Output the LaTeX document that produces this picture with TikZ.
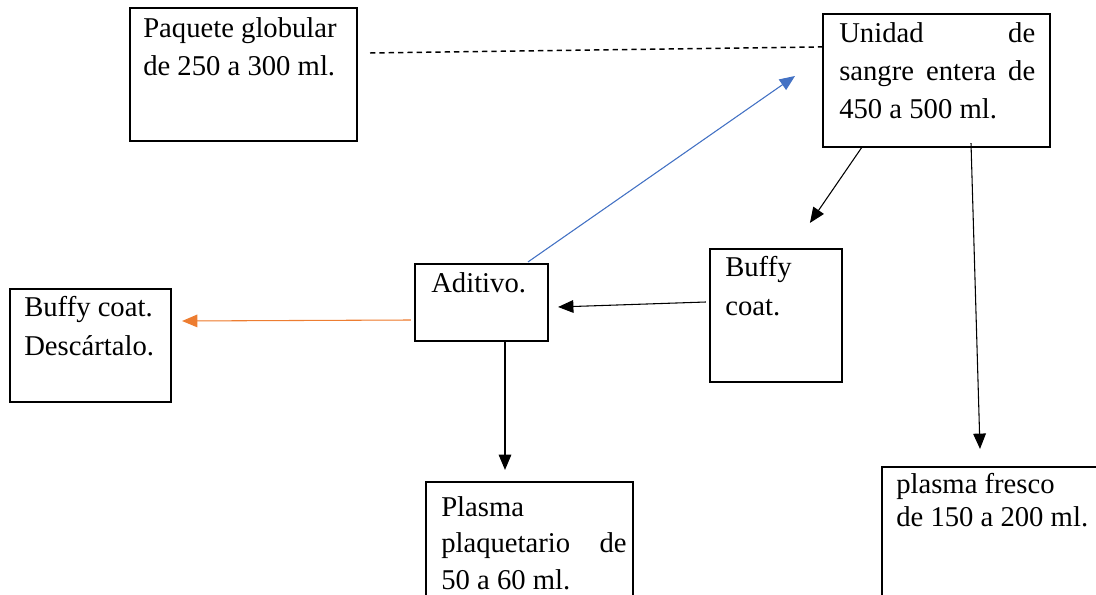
\documentclass[tikz,border=0pt]{standalone}
\usepackage{fontspec}
\setmainfont{Liberation Serif}
\usetikzlibrary{arrows.meta,calc}
\definecolor{offblue}{RGB}{68,114,196}
\definecolor{offorange}{RGB}{237,125,49}
\tikzset{
  box/.style={draw=black, line width=1.6pt, inner sep=0pt, fill=none},
  txt/.style={anchor=base west, inner sep=0pt},
  arr/.style={line width=0.8pt, -{Triangle[length=11.5pt,width=9.5pt]}},
  dash line/.style={line width=1.1pt, dash pattern=on 4pt off 3pt}
}
\newcommand{\bigtxt}[2]{\parbox[t]{#1}{\fontsize{21.5}{28.5}\selectfont #2}}
\begin{document}
\begin{tikzpicture}[x=0.75pt,y=-0.75pt]
\useasboundingbox (0,0) rectangle (1096,595);
\clip (0,0) rectangle (1096,595);
% boxes
\node[box, minimum width=170.25pt, minimum height=99.75pt] (paq) at (243.5,74.5) {};
\node[box, minimum width=170.25pt, minimum height=99.75pt] (uni) at (936.5,80.5) {};
\node[box, minimum width=99.75pt, minimum height=57.75pt] (adi) at (481.5,302.5) {};
\node[box, minimum width=99pt, minimum height=99.75pt] (buf) at (776,315.5) {};
\node[box, minimum width=120.75pt, minimum height=84.75pt] (des) at (90.5,345.5) {};
\node[box, minimum width=155.25pt, minimum height=96pt] (pla) at (529.5,546) {};
\node[box, minimum width=171pt, minimum height=107.25pt] (fre) at (996,538.5) {};
% texts
\node[txt] (paqt) at (143,38) {\bigtxt{170pt}{Paquete globular\\de 250 a 300 ml.}};
\node[txt] (unit) at (839,43) {\bigtxt{147pt}{\makebox[147pt][s]{Unidad de}\\\makebox[147pt][s]{sangre entera de}\\450 a 500 ml.}};
\node[txt] (adit) at (431,293) {\bigtxt{90pt}{Aditivo.}};
\node[txt] (buft) at (725,277) {\bigtxt{90pt}{Buffy\\coat.}};
\node[txt] (dest) at (24,317) {\bigtxt{110pt}{Buffy coat.\\Descártalo.}};
\node[txt] (plat) at (441,516) {\parbox[t]{139pt}{\fontsize{21.5}{27.5}\selectfont Plasma\\\makebox[139pt][s]{plaquetario de}\\50 a 60 ml.}};
\node[txt] (fret) at (896,493) {\parbox[t]{160pt}{\fontsize{21.5}{25}\selectfont plasma fresco\\de 150 a 200 ml.}};
% connectors
\coordinate (dl) at (370,53);
\draw[dash line] (dl) -- ($(uni.north west)+(0,34)$);
\coordinate (blueend) at (795,76);
\draw[arr, draw=offblue, fill=offblue] ($(adi.north)+(46.5,-1)$) -- (blueend);
\draw[arr] ($(uni.south)+(-74.5,-1)$) -- ($(buf.north west)+(101,-25)$);
\draw[arr] ($(uni.south)+(34.5,-5)$) -- ($(fre.north)+(-16,-17)$);
\draw[arr] ($(buf.west)+(-3,-13.5)$) -- ($(adi.east)+(9,4.5)$);
\draw[arr, draw=offorange, fill=offorange] ($(adi.west)+(-3,17.5)$) -- ($(des.east)+(10,-24.5)$);
\draw[arr] ($(adi.south)+(23.5,0)$) -- ($(pla.north)+(-24.5,-11)$);
\end{tikzpicture}
\end{document}
